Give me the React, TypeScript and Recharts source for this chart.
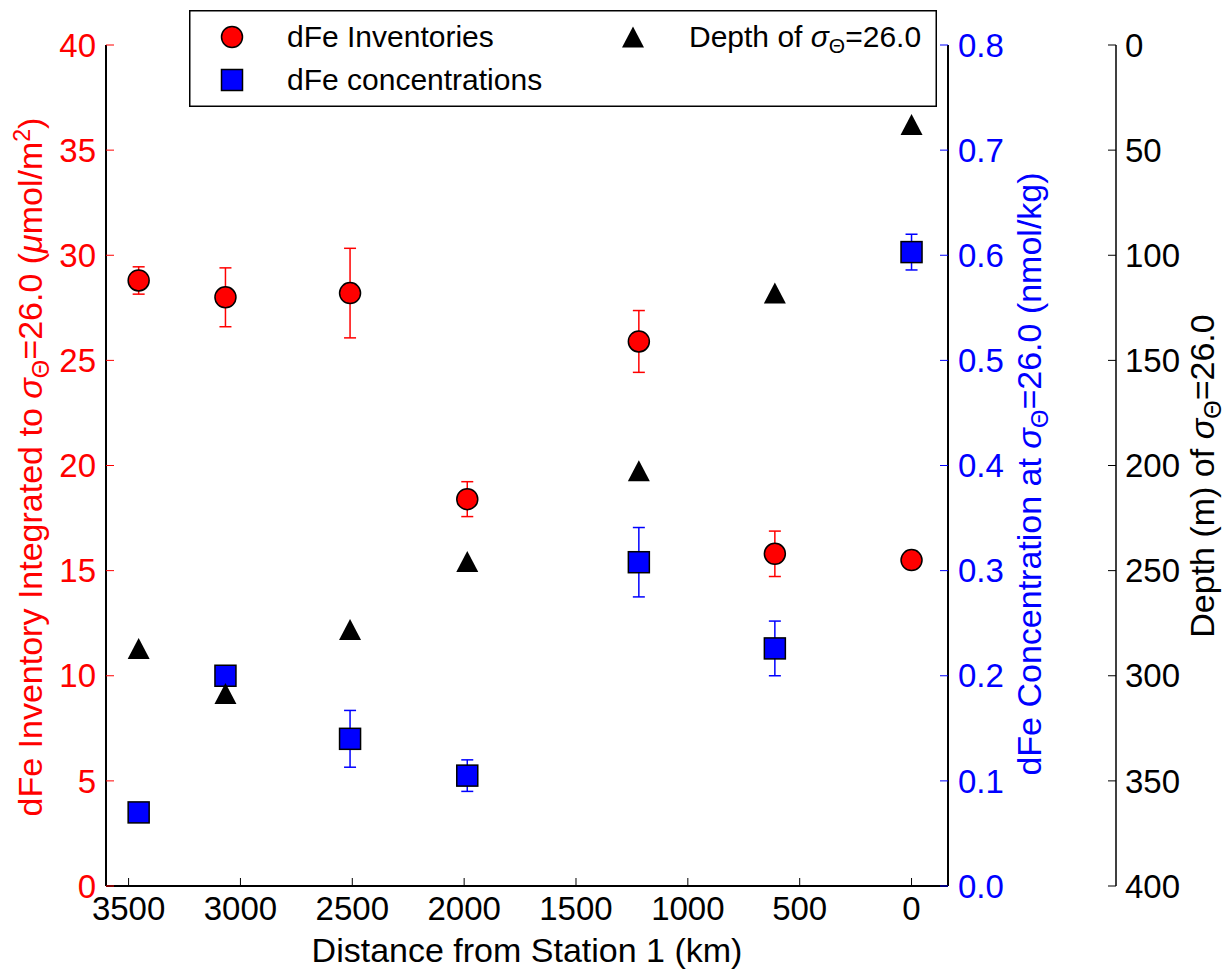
import React from "react";
import { ComposedChart, Scatter, XAxis, YAxis, ErrorBar, Legend } from "recharts";

// stations along the transect, distance from station 1
const stationKm = [3455, 3067, 2510, 1986, 1219, 611, 0];
// dFe inventory integrated to sigma-theta 26.0 (umol/m2)
const inventory = [28.8, 28.0, 28.2, 18.4, 25.9, 15.8, 15.5];
const inventoryErr = [0.65, 1.4, 2.13, 0.83, 1.47, 1.08, 0];
// dFe concentration at sigma-theta 26.0 (nmol/kg)
const concentration = [0.07, 0.2, 0.14, 0.105, 0.308, 0.226, 0.603];
const concentrationErr = [0, 0, 0.027, 0.015, 0.033, 0.026, 0.017];
// depth of sigma-theta 26.0 (m)
const isoDepth = [287, 308.5, 278, 245.7, 202.5, 118, 37.8];

const kmTicks = [3500, 3000, 2500, 2000, 1500, 1000, 500, 0];
const inventoryTicks = [0, 5, 10, 15, 20, 25, 30, 35, 40];
const concTicks = [0, 0.1, 0.2, 0.3, 0.4, 0.5, 0.6, 0.7, 0.8];
const depthTicks = [0, 50, 100, 150, 200, 250, 300, 350, 400];

const inventoryData = stationKm.map((km, i) => ({ km, value: inventory[i], err: inventoryErr[i] }));
const concData = stationKm.map((km, i) => ({ km, value: concentration[i], err: concentrationErr[i] }));
const depthData = stationKm.map((km, i) => ({ km, value: isoDepth[i] }));

const FONT = "'Liberation Sans', Arial, sans-serif";
const RED = "#ff0000";
const BLUE = "#0000ff";
const TICK_FS = 33;
const TITLE_FS = 34;
const LEGEND_FS = 30;

const circleShape = (p: any) => (
  <circle cx={p.cx} cy={p.cy} r={10.5} fill={RED} stroke="#000" strokeWidth={1.5} />
);
const squareShape = (p: any) => (
  <rect x={p.cx - 10.5} y={p.cy - 10.5} width={21} height={21} fill={BLUE} stroke="#000" strokeWidth={1.5} />
);
const triangleShape = (p: any) => (
  <polygon
    points={`${p.cx},${p.cy - 10.5} ${p.cx - 11},${p.cy + 10.5} ${p.cx + 11},${p.cy + 10.5}`}
    fill="#000"
  />
);

const leftTick = (p: any) => (
  <g>
    <line x1={p.x + 10} x2={p.x + 18} y1={p.y} y2={p.y} stroke={RED} strokeWidth={1} />
    <text x={p.x} y={p.y} dy="0.355em" textAnchor="end" fill={RED} fontSize={TICK_FS} fontFamily={FONT}>
      {p.payload.value}
    </text>
  </g>
);

const concTick = (p: any) => (
  <g>
    <line x1={p.x - 10} x2={p.x - 18} y1={p.y} y2={p.y} stroke={BLUE} strokeWidth={1} />
    <text x={p.x} y={p.y} dy="0.355em" textAnchor="start" fill={BLUE} fontSize={TICK_FS} fontFamily={FONT}>
      {Number(p.payload.value).toFixed(1)}
    </text>
  </g>
);

const depthTick = (p: any) => (
  <g>
    <line x1={p.x - 9} x2={p.x - 17} y1={p.y} y2={p.y} stroke="#000" strokeWidth={1} />
    <text x={p.x} y={p.y} dy="0.355em" textAnchor="start" fill="#000" fontSize={TICK_FS} fontFamily={FONT}>
      {p.payload.value}
    </text>
  </g>
);

const bottomTick = (p: any) => (
  <g>
    <line x1={p.x} x2={p.x} y1={p.y} y2={p.y - 8} stroke="#000" strokeWidth={1} />
    <text x={p.x} y={p.y + 34} textAnchor="middle" fill="#000" fontSize={TICK_FS} fontFamily={FONT}>
      {p.payload.value}
    </text>
  </g>
);

const topTick = (p: any) => (
  <line x1={p.x} x2={p.x} y1={p.y} y2={p.y + 8} stroke="#000" strokeWidth={1} />
);

const Sigma = ({ fs }: { fs: number }) => (
  <>
    <tspan fontStyle="italic">σ</tspan>
    <tspan fontSize={fs * 0.7} dy={fs * 0.2}>Θ</tspan>
    <tspan dy={-fs * 0.2}>=26.0</tspan>
  </>
);

const LeftTitle = () => (
  <text transform="translate(42,467) rotate(-90)" textAnchor="middle" fill={RED} fontSize={TITLE_FS} fontFamily={FONT}>
    dFe Inventory Integrated to <Sigma fs={TITLE_FS} /> (<tspan fontStyle="italic">μ</tspan>mol/m
    <tspan fontSize={23} dy={-12}>2</tspan>
    <tspan dy={12}>)</tspan>
  </text>
);

const ConcTitle = () => (
  <text transform="translate(1041,474) rotate(-90)" textAnchor="middle" fill={BLUE} fontSize={TITLE_FS} fontFamily={FONT}>
    dFe Concentration at <Sigma fs={TITLE_FS} /> (nmol/kg)
  </text>
);

const DepthTitle = () => (
  <text transform="translate(1214,476) rotate(-90)" textAnchor="middle" fill="#000" fontSize={TITLE_FS} fontFamily={FONT}>
    Depth (m) of <Sigma fs={TITLE_FS} />
  </text>
);

const BottomTitle = () => (
  <text x={527} y={962} textAnchor="middle" fill="#000" fontSize={TITLE_FS} fontFamily={FONT}>
    Distance from Station 1 (km)
  </text>
);

const LegendBox = () => (
  <svg width={748} height={97} style={{ display: "block" }} fontFamily={FONT}>
    <rect x={0.75} y={0.75} width={746.5} height={95.5} fill="#fff" stroke="#000" strokeWidth={1.5} />
    <circle cx={43} cy={27} r={10.5} fill={RED} stroke="#000" strokeWidth={1.5} />
    <text x={98} y={37} fontSize={LEGEND_FS} fill="#000">dFe Inventories</text>
    <rect x={32.5} y={59.5} width={21} height={21} fill={BLUE} stroke="#000" strokeWidth={1.5} />
    <text x={98} y={80} fontSize={LEGEND_FS} fill="#000">dFe concentrations</text>
    <polygon points="444,16.5 433,37.5 455,37.5" fill="#000" />
    <text x={500} y={37} fontSize={LEGEND_FS} fill="#000">
      Depth of <Sigma fs={LEGEND_FS} />
    </text>
  </svg>
);

export default function App() {
  return (
    <div style={{ position: "absolute", left: 0, top: 0, width: 1229, height: 971, background: "#fff" }}>
      <ComposedChart width={1229} height={971} margin={{ top: 45, right: 0, bottom: 0, left: 0 }}>
        <XAxis
          xAxisId="b"
          dataKey="km"
          type="number"
          domain={[-163, 3601]}
          reversed
          allowDataOverflow
          ticks={kmTicks}
          interval={0}
          height={85}
          tickSize={0}
          tickMargin={0}
          tickLine={false}
          axisLine={{ stroke: "#000", strokeWidth: 2 }}
          tick={bottomTick}
          label={<BottomTitle />}
        />
        <XAxis
          xAxisId="t"
          orientation="top"
          dataKey="km"
          type="number"
          domain={[-163, 3601]}
          reversed
          allowDataOverflow
          ticks={kmTicks}
          interval={0}
          height={0}
          tickSize={0}
          tickMargin={0}
          tickLine={false}
          axisLine={{ stroke: "#000", strokeWidth: 2 }}
          tick={topTick}
        />
        <YAxis
          yAxisId="inv"
          dataKey="value"
          type="number"
          domain={[0, 40]}
          ticks={inventoryTicks}
          interval={0}
          width={106}
          tickSize={0}
          tickMargin={10}
          tickLine={false}
          axisLine={{ stroke: "#000", strokeWidth: 2 }}
          tick={leftTick}
          label={<LeftTitle />}
        />
        <YAxis
          yAxisId="conc"
          orientation="right"
          dataKey="value"
          type="number"
          domain={[0, 0.8]}
          ticks={concTicks}
          interval={0}
          width={168}
          tickSize={0}
          tickMargin={10}
          tickLine={false}
          axisLine={{ stroke: "#000", strokeWidth: 2 }}
          tick={concTick}
          label={<ConcTitle />}
        />
        <YAxis
          yAxisId="depth"
          orientation="right"
          dataKey="value"
          type="number"
          domain={[0, 400]}
          reversed
          ticks={depthTicks}
          interval={0}
          width={113}
          tickSize={0}
          tickMargin={9}
          tickLine={false}
          axisLine={{ stroke: "#000", strokeWidth: 1.5 }}
          tick={depthTick}
          label={<DepthTitle />}
        />
        <Scatter
          name="dFe Inventories"
          data={inventoryData}
          xAxisId="b"
          yAxisId="inv"
          shape={circleShape}
          isAnimationActive={false}
        >
          <ErrorBar dataKey="err" direction="y" width={6} stroke={RED} strokeWidth={1.5} />
        </Scatter>
        <Scatter
          name="dFe concentrations"
          data={concData}
          xAxisId="b"
          yAxisId="conc"
          shape={squareShape}
          isAnimationActive={false}
        >
          <ErrorBar dataKey="err" direction="y" width={6} stroke={BLUE} strokeWidth={1.5} />
        </Scatter>
        <Scatter
          name="Depth of σΘ=26.0"
          data={depthData}
          xAxisId="b"
          yAxisId="depth"
          shape={triangleShape}
          isAnimationActive={false}
        />
        <Legend
          layout="horizontal"
          verticalAlign="middle"
          align="center"
          width={748}
          height={97}
          wrapperStyle={{ left: 189, top: 10, width: 748, height: 97 }}
          content={() => <LegendBox />}
        />
      </ComposedChart>
    </div>
  );
}
